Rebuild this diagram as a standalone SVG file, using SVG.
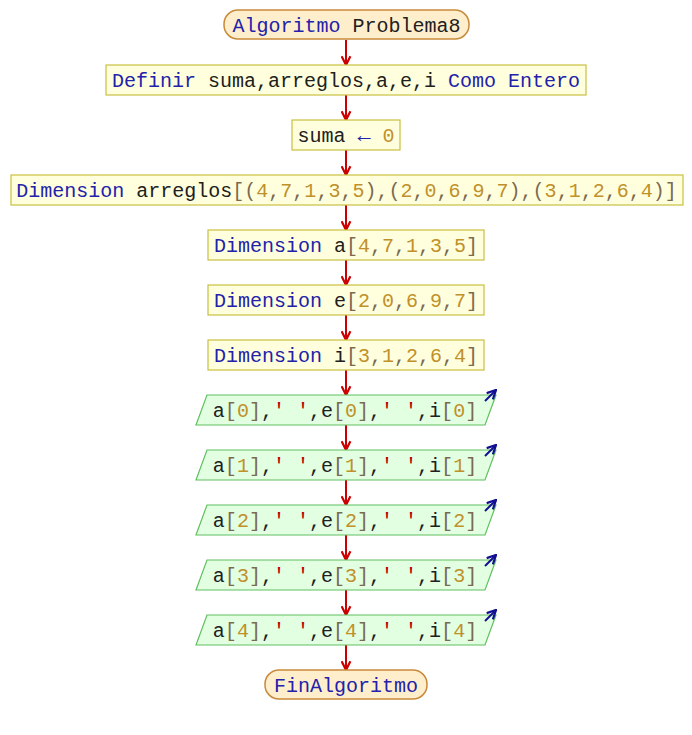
<svg xmlns="http://www.w3.org/2000/svg" width="692" height="735" viewBox="0 0 692 735">
<defs>
<style>
text{font-family:"Liberation Mono","Courier New",monospace;font-size:20px;white-space:pre;fill:#202020;text-anchor:middle}
.k{fill:#2222aa}
.n{fill:#c0902a}
.p{fill:#7a6a50}
.s{fill:#c00000}
.box{fill:#ffffdd;stroke:#c8c040;stroke-width:1.2}
.term{fill:#ffeecc;stroke:#c88a3a;stroke-width:1.5}
.io{fill:#e2ffe2;stroke:#60c060;stroke-width:1.2}
.flow{stroke:#cc0000;stroke-width:2;fill:none}
.out{stroke:#101090;stroke-width:2;fill:none}
</style>
<marker id="ah" viewBox="0 0 10 10" refX="9" refY="5" markerWidth="11" markerHeight="11" markerUnits="userSpaceOnUse" orient="auto">
<path d="M1,1 L9,5 L1,9" fill="none" stroke="#cc0000" stroke-width="2"/>
</marker>
<marker id="bh" viewBox="0 0 10 10" refX="9" refY="5" markerWidth="11" markerHeight="11" markerUnits="userSpaceOnUse" orient="auto">
<path d="M1,1 L9,5 L1,9" fill="none" stroke="#101090" stroke-width="2"/>
</marker>
</defs>
<rect width="692" height="735" fill="#ffffff"/>
<g id="connectors">
<line class="flow" x1="346" y1="40" x2="346" y2="65" marker-end="url(#ah)"/>
<line class="flow" x1="346" y1="95" x2="346" y2="120" marker-end="url(#ah)"/>
<line class="flow" x1="346" y1="150" x2="346" y2="175" marker-end="url(#ah)"/>
<line class="flow" x1="346" y1="205" x2="346" y2="230" marker-end="url(#ah)"/>
<line class="flow" x1="346" y1="260" x2="346" y2="285" marker-end="url(#ah)"/>
<line class="flow" x1="346" y1="315" x2="346" y2="340" marker-end="url(#ah)"/>
<line class="flow" x1="346" y1="370" x2="346" y2="395" marker-end="url(#ah)"/>
<line class="flow" x1="346" y1="425" x2="346" y2="450" marker-end="url(#ah)"/>
<line class="flow" x1="346" y1="480" x2="346" y2="505" marker-end="url(#ah)"/>
<line class="flow" x1="346" y1="535" x2="346" y2="560" marker-end="url(#ah)"/>
<line class="flow" x1="346" y1="590" x2="346" y2="615" marker-end="url(#ah)"/>
<line class="flow" x1="346" y1="645" x2="346" y2="670" marker-end="url(#ah)"/>
</g>
<g id="start">
<rect class="term" x="224" y="10" width="245" height="29" rx="14" ry="14"/>
<text x="346.5" y="32"><tspan class="k">Algoritmo</tspan> Problema8</text>
</g>
<g id="definir">
<rect class="box" x="106" y="65" width="480" height="30"/>
<text x="346" y="87"><tspan class="k">Definir</tspan> suma,arreglos,a,e,i <tspan class="k">Como Entero</tspan></text>
</g>
<g id="asignar">
<rect class="box" x="292" y="120" width="108" height="30"/>
<text x="346" y="142">suma <tspan class="k" font-size="22">←</tspan> <tspan class="n">0</tspan></text>
</g>
<g id="dim_arreglos">
<rect class="box" x="11" y="175" width="672" height="30"/>
<text x="346.5" y="197"><tspan class="k">Dimension</tspan> arreglos<tspan class="p">[(</tspan><tspan class="n">4</tspan><tspan class="p">,</tspan><tspan class="n">7</tspan><tspan class="p">,</tspan><tspan class="n">1</tspan><tspan class="p">,</tspan><tspan class="n">3</tspan><tspan class="p">,</tspan><tspan class="n">5</tspan><tspan class="p">),(</tspan><tspan class="n">2</tspan><tspan class="p">,</tspan><tspan class="n">0</tspan><tspan class="p">,</tspan><tspan class="n">6</tspan><tspan class="p">,</tspan><tspan class="n">9</tspan><tspan class="p">,</tspan><tspan class="n">7</tspan><tspan class="p">),(</tspan><tspan class="n">3</tspan><tspan class="p">,</tspan><tspan class="n">1</tspan><tspan class="p">,</tspan><tspan class="n">2</tspan><tspan class="p">,</tspan><tspan class="n">6</tspan><tspan class="p">,</tspan><tspan class="n">4</tspan><tspan class="p">)]</tspan></text>
</g>
<g id="dim_a">
<rect class="box" x="208" y="230" width="276" height="30"/>
<text x="346" y="252"><tspan class="k">Dimension</tspan> a<tspan class="p">[</tspan><tspan class="n">4</tspan><tspan class="p">,</tspan><tspan class="n">7</tspan><tspan class="p">,</tspan><tspan class="n">1</tspan><tspan class="p">,</tspan><tspan class="n">3</tspan><tspan class="p">,</tspan><tspan class="n">5</tspan><tspan class="p">]</tspan></text>
</g>
<g id="dim_e">
<rect class="box" x="208" y="285" width="276" height="30"/>
<text x="346" y="307"><tspan class="k">Dimension</tspan> e<tspan class="p">[</tspan><tspan class="n">2</tspan><tspan class="p">,</tspan><tspan class="n">0</tspan><tspan class="p">,</tspan><tspan class="n">6</tspan><tspan class="p">,</tspan><tspan class="n">9</tspan><tspan class="p">,</tspan><tspan class="n">7</tspan><tspan class="p">]</tspan></text>
</g>
<g id="dim_i">
<rect class="box" x="208" y="340" width="276" height="30"/>
<text x="346" y="362"><tspan class="k">Dimension</tspan> i<tspan class="p">[</tspan><tspan class="n">3</tspan><tspan class="p">,</tspan><tspan class="n">1</tspan><tspan class="p">,</tspan><tspan class="n">2</tspan><tspan class="p">,</tspan><tspan class="n">6</tspan><tspan class="p">,</tspan><tspan class="n">4</tspan><tspan class="p">]</tspan></text>
</g>
<g id="escribir0">
<polygon class="io" points="207,395 496,395 485,425 196,425"/>
<line class="out" x1="485" y1="401" x2="496" y2="390" marker-end="url(#bh)"/>
<text x="345" y="417">a<tspan class="p">[</tspan><tspan class="n">0</tspan><tspan class="p">]</tspan>,<tspan class="s">'</tspan> <tspan class="s">'</tspan>,e<tspan class="p">[</tspan><tspan class="n">0</tspan><tspan class="p">]</tspan>,<tspan class="s">'</tspan> <tspan class="s">'</tspan>,i<tspan class="p">[</tspan><tspan class="n">0</tspan><tspan class="p">]</tspan></text>
</g>
<g id="escribir1">
<polygon class="io" points="207,450 496,450 485,480 196,480"/>
<line class="out" x1="485" y1="456" x2="496" y2="445" marker-end="url(#bh)"/>
<text x="345" y="472">a<tspan class="p">[</tspan><tspan class="n">1</tspan><tspan class="p">]</tspan>,<tspan class="s">'</tspan> <tspan class="s">'</tspan>,e<tspan class="p">[</tspan><tspan class="n">1</tspan><tspan class="p">]</tspan>,<tspan class="s">'</tspan> <tspan class="s">'</tspan>,i<tspan class="p">[</tspan><tspan class="n">1</tspan><tspan class="p">]</tspan></text>
</g>
<g id="escribir2">
<polygon class="io" points="207,505 496,505 485,535 196,535"/>
<line class="out" x1="485" y1="511" x2="496" y2="500" marker-end="url(#bh)"/>
<text x="345" y="527">a<tspan class="p">[</tspan><tspan class="n">2</tspan><tspan class="p">]</tspan>,<tspan class="s">'</tspan> <tspan class="s">'</tspan>,e<tspan class="p">[</tspan><tspan class="n">2</tspan><tspan class="p">]</tspan>,<tspan class="s">'</tspan> <tspan class="s">'</tspan>,i<tspan class="p">[</tspan><tspan class="n">2</tspan><tspan class="p">]</tspan></text>
</g>
<g id="escribir3">
<polygon class="io" points="207,560 496,560 485,590 196,590"/>
<line class="out" x1="485" y1="566" x2="496" y2="555" marker-end="url(#bh)"/>
<text x="345" y="582">a<tspan class="p">[</tspan><tspan class="n">3</tspan><tspan class="p">]</tspan>,<tspan class="s">'</tspan> <tspan class="s">'</tspan>,e<tspan class="p">[</tspan><tspan class="n">3</tspan><tspan class="p">]</tspan>,<tspan class="s">'</tspan> <tspan class="s">'</tspan>,i<tspan class="p">[</tspan><tspan class="n">3</tspan><tspan class="p">]</tspan></text>
</g>
<g id="escribir4">
<polygon class="io" points="207,615 496,615 485,645 196,645"/>
<line class="out" x1="485" y1="621" x2="496" y2="610" marker-end="url(#bh)"/>
<text x="345" y="637">a<tspan class="p">[</tspan><tspan class="n">4</tspan><tspan class="p">]</tspan>,<tspan class="s">'</tspan> <tspan class="s">'</tspan>,e<tspan class="p">[</tspan><tspan class="n">4</tspan><tspan class="p">]</tspan>,<tspan class="s">'</tspan> <tspan class="s">'</tspan>,i<tspan class="p">[</tspan><tspan class="n">4</tspan><tspan class="p">]</tspan></text>
</g>
<g id="fin">
<rect class="term" x="265" y="670" width="162" height="29" rx="14" ry="14"/>
<text x="346" y="692" class="k">FinAlgoritmo</text>
</g>
</svg>
